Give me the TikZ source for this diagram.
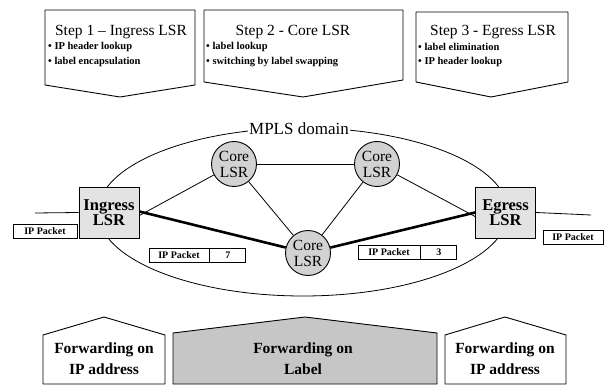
\documentclass[tikz,border=0pt]{standalone}
\usepackage{fontspec}
\setmainfont{Liberation Serif}
\begin{document}
\begin{tikzpicture}[x=1pt,y=-1pt,
  outline/.style={draw=black, line width=0.9pt, line join=round},
  title/.style={font=\fontsize{15.5}{17}\selectfont, inner sep=0pt},
  bullet/.style={font=\bfseries\fontsize{10.5}{11}\selectfont, inner sep=0pt, anchor=west},
  router/.style={draw=black, line width=0.9pt, fill=gray!22, minimum width=60pt, minimum height=51pt, inner sep=0pt, align=center, font=\bfseries\fontsize{16.5}{17}\selectfont},
  core/.style={circle, draw=black, line width=0.9pt, fill=gray!35, minimum size=45pt, inner sep=0pt, align=center, font=\fontsize{15.5}{16}\selectfont},
  thin/.style={line width=0.8pt},
  thick path/.style={line width=2.6pt},
  pkt/.style={draw=black, line width=0.8pt, inner sep=0pt, minimum height=14pt, font=\bfseries\fontsize{10}{10}\selectfont},
  fwd/.style={font=\bfseries\fontsize{15.5}{21}\selectfont, align=center, inner sep=0pt}
]
\useasboundingbox (0,0) rectangle (606,385);

% top step boxes
\draw[outline] (45,10) -- (195,10) -- (195,85) -- (120,97) -- (45,85) -- cycle;
\draw[outline] (204,10) -- (403,10) -- (403,80) -- (303,97) -- (204,82) -- cycle;
\draw[outline] (416,12) -- (568,12) -- (568,82) -- (491,97) -- (416,82) -- cycle;

\node[title] (t1) at (121,32) {Step 1 – Ingress LSR};
\node[bullet] (b11) at (48,47) {• IP header lookup};
\node[bullet] (b12) at (48,62) {• label encapsulation};
\node[title] (t2) at (293,32) {Step 2 - Core LSR};
\node[bullet] (b21) at (206,47) {• label lookup};
\node[bullet] (b22) at (206,62) {• switching by label swapping};
\node[title] (t3) at (493,32) {Step 3 - Egress LSR};
\node[bullet] (b31) at (418,47) {• label elimination};
\node[bullet] (b32) at (418,62) {• IP header lookup};

% MPLS domain
\draw[thin] (303,212) ellipse [x radius=205, y radius=84];
\node[fill=white, inner xsep=1pt, inner ysep=0pt, font=\fontsize{17}{18}\selectfont] (dom) at (299,129) {MPLS domain};

% routers
\node[router] (ing) at (109,212.5) {Ingress\\[-2pt]LSR};
\node[router] (eg) at (505.5,212.5) {Egress\\[-2pt]LSR};
\node[core] (c1) at (234,164) {Core\\LSR};
\node[core] (c2) at (377,164) {Core\\LSR};
\node[core] (c3) at (308,253) {Core\\LSR};

\coordinate (inL) at (35,213);
\coordinate (egR) at (591,215);

\draw[thin] (inL) -- (ing.west);
\draw[thin] (eg.east) -- (egR);
\draw[thin] ([yshift=-3pt]ing.east) -- (c1);
\draw[thick path] ([yshift=1pt]ing.east) -- (c3);
\draw[thin] (c1) -- (c2);
\draw[thin] (c1) -- (c3);
\draw[thin] (c2) -- (c3);
\draw[thin] (c2) -- ([yshift=-4pt]eg.west);
\draw[thick path] (c3) -- ([yshift=0pt]eg.west);

% packets
\node[pkt, minimum width=64pt] (p1) at (45,231.5) {IP Packet};
\node[pkt, minimum width=60pt] (p4) at (573,237) {IP Packet};
\node[pkt, minimum width=60pt] (p2) at (179,255.5) {IP Packet};
\node[pkt, minimum width=36pt, anchor=west] (l2) at (p2.east) {7};
\node[pkt, minimum width=62pt] (p3) at (389,252.5) {IP Packet};
\node[pkt, minimum width=36pt, anchor=west] (l3) at (p3.east) {3};

% bottom forwarding boxes
\draw[outline] (43,384) -- (43,335) -- (104,317) -- (165,335) -- (165,384) -- cycle;
\draw[outline, fill=gray!45] (173,384) -- (173,333) -- (305,317) -- (437,333) -- (437,384) -- cycle;
\draw[outline] (445,384) -- (445,335) -- (505,317) -- (566,335) -- (566,384) -- cycle;

\node[fwd] (f1) at (104,359) {Forwarding on\\IP address};
\node[fwd] (f2) at (303,359) {Forwarding on\\Label};
\node[fwd] (f3) at (505,359) {Forwarding on\\IP address};
\end{tikzpicture}
\end{document}
